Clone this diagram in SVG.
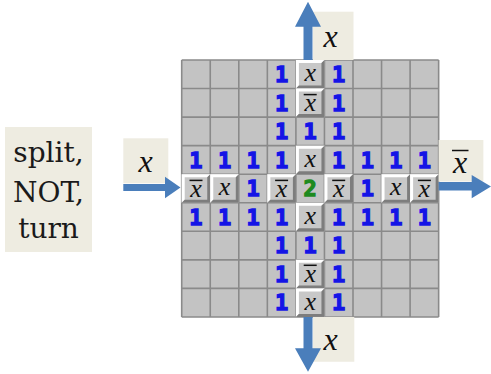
<svg xmlns="http://www.w3.org/2000/svg" xmlns:xlink="http://www.w3.org/1999/xlink" width="491" height="374" viewBox="0 0 491 374">
<style>
.n{font-family:"DejaVu Sans Mono","Liberation Mono",monospace;font-weight:bold;font-size:22px;fill:#1414e6;stroke:#1414e6;stroke-width:1.3;text-anchor:middle}
.g{fill:#1e8a1e;stroke:#1e8a1e}
.v{font-family:"Liberation Serif","Times New Roman",serif;font-style:italic;font-size:26px;fill:#111;text-anchor:middle}
.lv{font-family:"Liberation Serif","Times New Roman",serif;font-style:italic;font-size:32px;fill:#111;text-anchor:middle}
.ov{stroke:#111;stroke-width:1.5}
.box{fill:#eeece1}
.arr{fill:#4a7ebb}
.gl{stroke:#8a8a8a;stroke-width:1.6;fill:none}
.lbl{font-family:"DejaVu Serif","Liberation Serif",serif;font-size:28px;fill:#1a1a1a;text-anchor:middle}
</style>
<defs>
<g id="t">
<rect width="28.55" height="28.55" fill="#c8c8c8"/>
<polygon points="0,0 28.55,0 25.55,3 3,3 3,25.55 0,28.55" fill="#ffffff"/>
<polygon points="28.55,0 28.55,28.55 0,28.55 3,25.55 25.55,25.55 25.55,3" fill="#7d7d7d"/>
</g>
</defs>
<rect width="491" height="374" fill="#ffffff"/>

<g id="label-box">
<rect class="box" x="5" y="127" width="87" height="125"/>
<text class="lbl" x="48.5" y="162">split,</text>
<text class="lbl" x="48.5" y="201.5">NOT,</text>
<text class="lbl" x="48.5" y="238">turn</text>
</g>

<g id="grid">
<rect x="181.7" y="60" width="256.95" height="256.95" fill="#c3c3c3"/>
<path class="gl" d="M181.7 60V316.95M210.25 60V316.95M238.8 60V316.95M267.35 60V316.95M295.9 60V316.95M324.45 60V316.95M353 60V316.95M381.55 60V316.95M410.1 60V316.95M438.65 60V316.95M181.7 60H438.65M181.7 88.55H438.65M181.7 117.1H438.65M181.7 145.65H438.65M181.7 174.2H438.65M181.7 202.75H438.65M181.7 231.3H438.65M181.7 259.85H438.65M181.7 288.4H438.65M181.7 316.95H438.65"/>
<use xlink:href="#t" x="295.9" y="60"/>
<use xlink:href="#t" x="295.9" y="88.55"/>
<use xlink:href="#t" x="295.9" y="145.65"/>
<use xlink:href="#t" x="181.7" y="174.2"/>
<use xlink:href="#t" x="210.25" y="174.2"/>
<use xlink:href="#t" x="267.35" y="174.2"/>
<use xlink:href="#t" x="324.45" y="174.2"/>
<use xlink:href="#t" x="381.55" y="174.2"/>
<use xlink:href="#t" x="410.1" y="174.2"/>
<use xlink:href="#t" x="295.9" y="202.75"/>
<use xlink:href="#t" x="295.9" y="259.85"/>
<use xlink:href="#t" x="295.9" y="288.4"/>
</g>

<g id="cells">
<!-- row 0 -->
<text class="n" x="281.63" y="82">1</text>
<text class="v" x="310.18" y="81.2">x</text>
<text class="n" x="338.73" y="82">1</text>
<!-- row 1 -->
<text class="n" x="281.63" y="110.55">1</text>
<text class="v" x="310.18" y="111.3">x</text>
<line class="ov" x1="303.7" y1="94.6" x2="316.7" y2="94.6"/>
<text class="n" x="338.73" y="110.55">1</text>
<!-- row 2 -->
<text class="n" x="281.63" y="139.1">1</text>
<text class="n" x="310.18" y="139.1">1</text>
<text class="n" x="338.73" y="139.1">1</text>
<!-- row 3 -->
<text class="n" x="195.98" y="167.65">1</text>
<text class="n" x="224.53" y="167.65">1</text>
<text class="n" x="253.08" y="167.65">1</text>
<text class="n" x="281.63" y="167.65">1</text>
<text class="v" x="310.18" y="166.85">x</text>
<text class="n" x="338.73" y="167.65">1</text>
<text class="n" x="367.28" y="167.65">1</text>
<text class="n" x="395.83" y="167.65">1</text>
<text class="n" x="424.38" y="167.65">1</text>
<!-- row 4 -->
<text class="v" x="195.98" y="196.9">x</text>
<line class="ov" x1="189.5" y1="180.4" x2="202.5" y2="180.4"/>
<text class="v" x="224.53" y="195.4">x</text>
<text class="n" x="253.08" y="196.2">1</text>
<text class="v" x="281.63" y="196.9">x</text>
<line class="ov" x1="275.1" y1="180.4" x2="288.1" y2="180.4"/>
<text class="n g" x="310.18" y="196.2">2</text>
<text class="v" x="338.73" y="196.9">x</text>
<line class="ov" x1="332.2" y1="180.4" x2="345.2" y2="180.4"/>
<text class="n" x="367.28" y="196.2">1</text>
<text class="v" x="395.83" y="195.4">x</text>
<text class="v" x="424.38" y="196.9">x</text>
<line class="ov" x1="417.9" y1="180.4" x2="430.9" y2="180.4"/>
<!-- row 5 -->
<text class="n" x="195.98" y="224.75">1</text>
<text class="n" x="224.53" y="224.75">1</text>
<text class="n" x="253.08" y="224.75">1</text>
<text class="n" x="281.63" y="224.75">1</text>
<text class="v" x="310.18" y="223.95">x</text>
<text class="n" x="338.73" y="224.75">1</text>
<text class="n" x="367.28" y="224.75">1</text>
<text class="n" x="395.83" y="224.75">1</text>
<text class="n" x="424.38" y="224.75">1</text>
<!-- row 6 -->
<text class="n" x="281.63" y="253.3">1</text>
<text class="n" x="310.18" y="253.3">1</text>
<text class="n" x="338.73" y="253.3">1</text>
<!-- row 7 -->
<text class="n" x="281.63" y="281.85">1</text>
<text class="v" x="310.18" y="282.3">x</text>
<line class="ov" x1="303.7" y1="265.3" x2="316.7" y2="265.3"/>
<text class="n" x="338.73" y="281.85">1</text>
<!-- row 8 -->
<text class="n" x="281.63" y="310.4">1</text>
<text class="v" x="310.18" y="309.6">x</text>
<text class="n" x="338.73" y="310.4">1</text>
</g>

<g id="in-left">
<rect class="box" x="123.3" y="138.3" width="45" height="45"/>
<text class="lv" x="145.5" y="172">x</text>
</g>
<g id="out-top">
<rect class="box" x="313" y="11.7" width="40.5" height="48.3"/>
<text class="lv" x="330.5" y="46.7">x</text>
</g>
<g id="out-right">
<rect class="box" x="438.65" y="140" width="44.7" height="41.5"/>
<text class="lv" x="460" y="173">x</text>
<line class="ov" x1="452" y1="150.5" x2="468.5" y2="150.5"/>
</g>
<g id="out-bottom">
<rect class="box" x="313" y="316.95" width="41.3" height="44.8"/>
<text class="lv" x="330.5" y="350">x</text>
</g>

<g id="connectors">
<path class="arr" d="M123.3 184H165V176.7L180.5 187.5L165 198.3V191H123.3Z"/>
<path class="arr" d="M303.5 60V26.7H295L308 1.7L321 26.7H312.5V60Z"/>
<path class="arr" d="M438.65 182H471.7V175L491 186.5L471.7 198.3V190.5H438.65Z"/>
<path class="arr" d="M303.5 316.95V348.3H295L308 371.7L321 348.3H312.5V316.95Z"/>
</g>
</svg>
